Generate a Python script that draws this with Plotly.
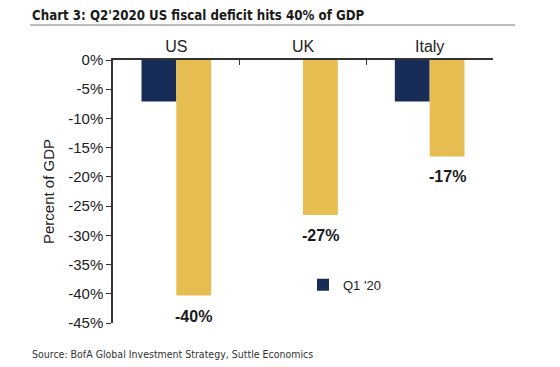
import plotly.graph_objects as go

categories = ["US", "UK", "Italy"]
q1_values = [-7.1, None, -7.1]
q2_values = [-40.3, -26.5, -16.5]
q2_labels = ["-40%", "-27%", "-17%"]
y_tickvals = [0, -5, -10, -15, -20, -25, -30, -35, -40, -45]
y_ticktext = ["0%", "-5%", "-10%", "-15%", "-20%", "-25%", "-30%", "-35%", "-40%", "-45%"]

NAVY = "#172c57"
GOLD = "#e5bd50"
FONT = "Liberation Sans, Arial, sans-serif"
CFONT = "DejaVu Sans Condensed, Liberation Sans, sans-serif"

fig = go.Figure()
fig.add_trace(go.Bar(x=categories, y=q1_values, name="Q1 '20", marker_color=NAVY,
                     marker_line_width=0))
fig.add_trace(go.Bar(x=categories, y=q2_values, name="Q2 '20", marker_color=GOLD,
                     marker_line_width=0, showlegend=False))

bargap = 0.45
off = (1 - bargap) / 4
for i, (v, lab) in enumerate(zip(q2_values, q2_labels)):
    fig.add_annotation(x=i + off, y=v, xref="x", yref="y", text=lab, showarrow=False,
                       yanchor="top", yshift=-10,
                       font=dict(family=FONT, size=16, color="#1a1a1a", weight="bold"))

fig.add_annotation(x=-0.218, y=1.171, xref="paper", yref="paper", xanchor="left",
                   yanchor="middle", showarrow=False,
                   text="<b>Chart 3: Q2'2020 US fiscal deficit hits 40% of GDP</b>",
                   font=dict(family=CFONT, size=13.2, color="#1a1a1a"))
fig.add_shape(type="line", xref="paper", yref="paper", x0=-0.218, x1=1.058,
              y0=1.133, y1=1.133, line=dict(color="#777777", width=1))
fig.add_annotation(x=-0.218, y=-0.118, xref="paper", yref="paper", xanchor="left",
                   yanchor="middle", showarrow=False,
                   text="Source: BofA Global Investment Strategy, Suttle Economics",
                   font=dict(family=CFONT, size=10.5, color="#333333"))

fig.update_layout(
    width=560, height=367,
    margin=dict(l=113, r=67, t=60, b=44),
    paper_bgcolor="white", plot_bgcolor="white",
    barmode="group", bargap=bargap, bargroupgap=0,
    font=dict(family=FONT, size=15, color="#222222"),
    legend=dict(x=0.50, y=0.145, xanchor="left", yanchor="middle",
                font=dict(family=FONT, size=13, color="#222222"),
                bgcolor="rgba(0,0,0,0)", itemwidth=30),
    xaxis=dict(side="top", type="category", showline=True, linecolor="#333333",
               linewidth=1.5, ticks="inside", ticklen=5, tickcolor="#333333",
               tickson="boundaries", showgrid=False, zeroline=False, automargin=False,
               tickfont=dict(family=FONT, size=16, color="#222222")),
    yaxis=dict(range=[-45, 0], tickvals=y_tickvals, ticktext=y_ticktext,
               showline=True, linecolor="#333333", linewidth=1.5, ticks="outside",
               ticklen=5, tickcolor="#333333", showgrid=False, zeroline=False,
               automargin=False,
               tickfont=dict(family=FONT, size=15, color="#222222"),
               title=dict(text="Percent of GDP", standoff=10,
                          font=dict(family=FONT, size=15, color="#222222"))),
)

fig.write_html("out.html", config={"displayModeBar": False},
               post_script="document.body.style.margin='0';")
